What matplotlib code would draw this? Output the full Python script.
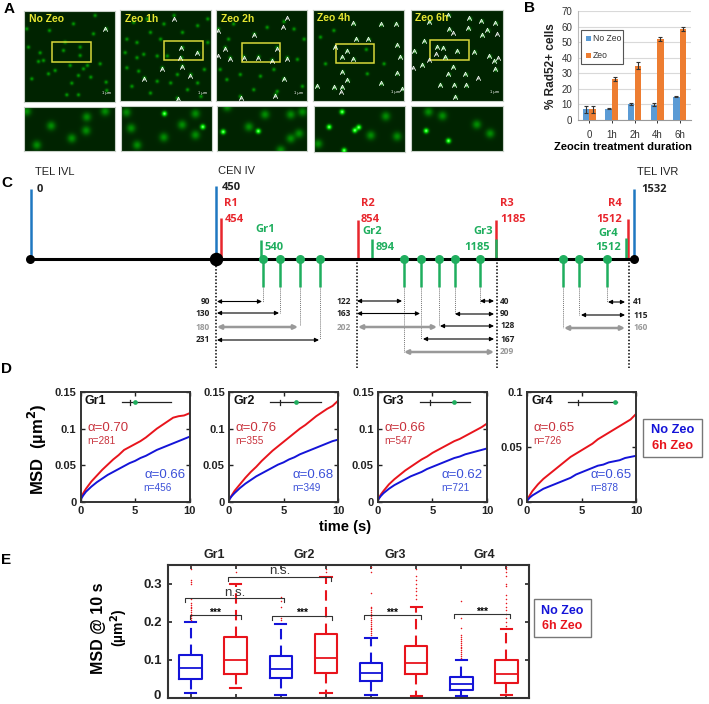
import numpy as np
import matplotlib
matplotlib.use('Agg')
import matplotlib.pyplot as plt
from matplotlib.path import Path
from matplotlib.patches import Rectangle

W, H = 709, 704
plt.rcParams['font.family'] = ['Liberation Sans', 'DejaVu Sans']

# ---- panel A: spots and arrowheads (3x crop pixels)
panel_names = ['No Zeo', 'Zeo 1h', 'Zeo 2h', 'Zeo 4h', 'Zeo 6h']
panel_boxes = [(72, 32, 345, 305), (360, 31, 633, 304), (648, 31, 922, 304), (938, 29, 1213, 302), (1232, 29, 1509, 302)]
strip_boxes = [(72, 320, 345, 453), (362, 317, 635, 453), (650, 318, 922, 453), (943, 318, 1216, 455), (1233, 318, 1509, 453)]
yellow_boxes = [(157, 127, 274, 185), (493, 122, 608, 181), (725, 128, 840, 187), (1007, 133, 1123, 190), (1291, 121, 1406, 179)]

spots_1 = [(80, 85), (148, 90), (195, 125), (120, 157), (190, 150), (240, 140), (85, 140), (130, 180), (115, 183),
           (240, 165), (272, 230), (215, 248), (200, 283), (250, 205), (235, 225), (262, 195), (210, 195), (145, 220),
           (165, 210), (95, 235), (235, 283), (318, 245), (320, 270), (285, 45), (318, 85), (280, 100), (220, 70), (300, 190)]
spots_2 = [(545, 145), (592, 160), (542, 175), (485, 205), (545, 200), (570, 225), (432, 235), (520, 50), (450, 100),
           (480, 120), (410, 130), (380, 205), (430, 165), (470, 170), (510, 250), (395, 260), (450, 280), (560, 270),
           (600, 290), (620, 130), (590, 80), (400, 70), (610, 210), (530, 295), (500, 170), (415, 215), (470, 245),
           (545, 100), (375, 160), (440, 60), (490, 75), (410, 175), (380, 120), (620, 60), (530, 225), (590, 250)]
spots_3 = [(850, 68), (685, 120), (762, 105), (675, 145), (830, 145), (690, 175), (730, 172), (775, 172), (815, 182),
           (860, 175), (850, 238), (825, 285), (720, 290), (910, 120), (880, 90), (800, 85), (700, 75), (660, 210),
           (720, 225), (780, 230), (820, 210), (890, 180), (680, 240), (760, 270), (905, 260), (830, 275), (655, 90)]
spots_4 = [(1060, 70), (1142, 73), (1187, 71), (1068, 117), (1105, 117), (1190, 135), (1005, 141), (1040, 152),
           (1025, 171), (1060, 176), (1097, 147), (1200, 170), (1027, 215), (1042, 240), (1143, 250), (1190, 220),
           (950, 258), (1002, 262), (1025, 262), (1207, 266), (960, 110), (1000, 90), (1150, 190), (1100, 220), (975, 190)]
spots_5 = [(1287, 65), (1345, 45), (1408, 55), (1347, 88), (1405, 85), (1272, 123), (1310, 140), (1328, 143), (1370, 153),
           (1243, 153), (1422, 155), (1335, 172), (1267, 194), (1358, 200), (1345, 222), (1396, 222), (1320, 254), (1362, 254),
           (1398, 256), (1365, 290), (1443, 62), (1485, 68), (1462, 90), (1445, 105), (1467, 168), (1482, 182), (1485, 208)]
panel_spots = [spots_1, spots_2, spots_3, spots_4, spots_5]

strip_spots = [[(153, 378), (260, 352), (258, 392), (215, 415), (110, 435), (80, 335), (315, 335)],
               [(378, 338), (585, 342), (392, 385), (545, 375), (490, 412), (585, 405), (410, 435)],
               [(905, 335), (793, 343), (870, 343), (745, 380), (870, 415), (895, 400), (680, 320), (840, 450)],
               [(1158, 348), (1113, 405), (1192, 408), (955, 430)],
               [(1327, 347), (1430, 373), (1285, 335), (1470, 400)]]
strip_bright = [[],
                [(492, 342), (607, 381)],
                [(668, 395), (773, 393)],
                [(1027, 335), (988, 380), (1065, 390), (1077, 381), (1033, 450)],
                [(1278, 392), (1345, 422)]]

arrow_heads = [[(315, 88)],
               [(522, 57), (544, 145), (592, 160), (541, 175), (485, 208), (545, 202), (570, 228), (432, 237), (533, 298)],
               [(860, 55), (848, 82), (655, 92), (762, 106), (675, 146), (830, 146), (654, 167), (690, 177), (732, 173),
                (775, 173), (815, 182), (860, 177), (851, 238), (825, 289), (722, 293)],
               [(1060, 70), (1142, 73), (1187, 71), (1068, 117), (1105, 117), (1190, 135), (1005, 141), (1040, 152),
                (1025, 171), (1060, 176), (1200, 170), (1027, 215), (1042, 240), (1143, 250), (1190, 220), (950, 258),
                (1002, 262), (1025, 262), (1024, 275), (1207, 266)],
               [(1287, 65), (1345, 45), (1408, 55), (1347, 88), (1405, 85), (1360, 100), (1272, 123), (1310, 140),
                (1328, 143), (1370, 153), (1243, 153), (1422, 155), (1308, 162), (1335, 172), (1287, 180), (1267, 194),
                (1238, 203), (1358, 200), (1345, 222), (1396, 222), (1433, 235), (1320, 254), (1362, 254), (1398, 256),
                (1365, 290), (1443, 62), (1485, 68), (1462, 90), (1490, 103), (1445, 105), (1467, 168), (1482, 182),
                (1495, 175), (1485, 208)]]

# ---- panel B
durations = ['0', '1h', '2h', '4h', '6h']
no_zeo_pct = [6.8, 7.2, 10.5, 9.7, 15.0]
zeo_pct = [6.8, 26.5, 35.0, 52.0, 58.5]
no_zeo_err = [2.2, 0.3, 0.6, 1.0, 0.3]
zeo_err = [2.2, 1.2, 2.2, 1.3, 1.2]

# ---- panel D
time_s = [0, 0.25, 0.5, 1, 1.5, 2, 2.5, 3, 3.5, 4, 4.5, 5, 5.5, 6, 6.5, 7, 7.5, 8, 8.5, 9, 9.5, 10]
gr1_zeo = [.003, .012, .018, .028, .036, .044, .051, .058, .064, .071, .075, .079, .083, .088, .094, .100, .105, .110, .115, .117, .118, .121]
gr1_ctl = [.003, .009, .014, .021, .027, .032, .037, .041, .045, .049, .053, .056, .060, .063, .067, .071, .074, .077, .080, .083, .086, .089]
gr2_zeo = [.003, .009, .015, .024, .033, .041, .048, .056, .063, .070, .076, .082, .088, .094, .100, .105, .111, .117, .122, .127, .131, .138]
gr2_ctl = [.003, .008, .012, .019, .025, .030, .035, .039, .043, .047, .051, .054, .058, .061, .065, .068, .071, .074, .077, .080, .083, .085]
gr3_zeo = [.003, .010, .015, .024, .031, .037, .043, .048, .053, .058, .062, .067, .071, .075, .079, .083, .086, .090, .094, .098, .102, .107]
gr3_ctl = [.003, .008, .012, .018, .023, .027, .031, .035, .038, .041, .045, .048, .051, .054, .057, .060, .062, .065, .067, .069, .071, .073]
gr4_zeo = [.002, .006, .010, .016, .021, .025, .029, .033, .037, .041, .044, .047, .050, .053, .057, .060, .063, .066, .069, .072, .075, .080]
gr4_ctl = [.001, .004, .006, .009, .012, .014, .016, .018, .020, .022, .025, .027, .029, .031, .033, .034, .036, .037, .038, .040, .041, .042]
msd_zeo = [gr1_zeo, gr2_zeo, gr3_zeo, gr4_zeo]
msd_ctl = [gr1_ctl, gr2_ctl, gr3_ctl, gr4_ctl]
alpha_zeo = ['0.70', '0.76', '0.66', '0.65']
alpha_ctl = ['0.66', '0.68', '0.62', '0.65']
n_zeo = [281, 355, 547, 726]
n_ctl = [456, 349, 721, 878]
groups = ['Gr1', 'Gr2', 'Gr3', 'Gr4']
inset_span = [(3.8, 8.3, 4.5, 4.97), (3.8, 8.4, 4.65, 6.15), (3.87, 8.4, 4.75, 6.93), (3.8, 8.3, 4.66, 8.1)]
msd_axes_px = [(80.5, 392, 189.5, 502), (229, 392, 338, 502), (378, 392, 487, 502), (527, 392, 636, 502)]

# ---- panel E: q1, median, q3, whisker low, whisker high
box_labels = ['Gr1 no', 'Gr1 zeo', 'Gr2 no', 'Gr2 zeo', 'Gr3 no', 'Gr3 zeo', 'Gr4 no', 'Gr4 zeo']
q1 = [.051, .064, .052, .066, .044, .062, .022, .039]
med = [.080, .100, .077, .106, .065, .091, .036, .064]
q3 = [.113, .161, .110, .169, .092, .136, .054, .099]
whislo = [.012, .026, .007, .013, .009, .004, .004, .009]
whishi = [.200, .300, .194, .317, .157, .240, .100, .180]
fliers = [[.35, .34, .31, .305, .30, .26, .25, .245, .24, .235, .23, .225, .22, .215, .21, .205],
          [.35, .33],
          [.265, .255, .24, .21, .205],
          [.35, .34, .33],
          [.345, .33, .275, .24, .235, .23, .225, .22, .215, .21, .205, .20, .195, .19, .185, .18, .175, .17, .165],
          [.34, .32, .31, .30, .29, .28, .27, .26],
          [.255, .21, .185, .165, .16, .155, .15, .145, .14, .135, .13, .125, .12, .115, .11, .105],
          [.345, .34, .33, .32, .30, .295, .27, .26, .25, .24, .23, .22, .21, .20, .19]]

fig = plt.figure(figsize=(W / 100, H / 100), dpi=100, facecolor='white')


def px_axes(x0, y0, x1, y1):
    return fig.add_axes([x0 / W, 1 - y1 / H, (x1 - x0) / W, (y1 - y0) / H])


# full figure layer in pixel units, for the schematic and loose text
lay = fig.add_axes([0, 0, 1, 1], zorder=5)
lay.set_xlim(0, W)
lay.set_ylim(H, 0)
lay.axis('off')
lay.patch.set_alpha(0)

for letter, x, y in [('A', 4, 9), ('B', 524, 8), ('C', 1, 183), ('D', 1, 369), ('E', 1, 560)]:
    lay.text(x, y, letter, fontsize=11, fontweight='bold', ha='left', va='center')


def micro(box, spots, bright, sigma, amp):
    xs = np.arange(box[0], box[2], 1.0)
    ys = np.arange(box[1], box[3], 1.0)
    gx, gy = np.meshgrid(xs, ys)
    g = np.zeros_like(gx)
    for sx, sy in spots:
        g += amp * np.exp(-((gx - sx) ** 2 + (gy - sy) ** 2) / (2 * sigma ** 2))
    for sx, sy in bright:
        g += 1.2 * np.exp(-((gx - sx) ** 2 + (gy - sy) ** 2) / (2 * (sigma * 0.55) ** 2))
    img = np.zeros(gx.shape + (3,))
    img[..., 1] = np.clip(0.14 + g, 0, 1)
    img[..., 0] = np.clip((g - 0.85) * 1.5, 0, 1)
    img[..., 2] = np.clip((g - 0.85) * 1.5, 0, 1)
    a = px_axes(box[0] / 3, box[1] / 3, box[2] / 3, box[3] / 3)
    a.imshow(img, aspect='auto', interpolation='bilinear', extent=(box[0], box[2], box[3], box[1]))
    a.set_xticks([])
    a.set_yticks([])
    for s in a.spines.values():
        s.set_color('#c8d0c8')
        s.set_linewidth(0.8)
    return a


head = Path([(-1, -1), (0, 1), (1, -1), (0, 0.1), (-0.3, -0.5)],
            [Path.MOVETO, Path.LINETO, Path.LINETO, Path.MOVETO, Path.LINETO])

for i, name in enumerate(panel_names):
    a = micro(panel_boxes[i], panel_spots[i], [], 3.6, 0.5)
    micro(strip_boxes[i], strip_spots[i], strip_bright[i], 9, 0.42)
    b = yellow_boxes[i]
    a.add_patch(Rectangle((b[0], b[1]), b[2] - b[0], b[3] - b[1], fill=False, ec='#d8d83a', lw=1.1))
    hx = [p[0] for p in arrow_heads[i]]
    hy = [p[1] for p in arrow_heads[i]]
    a.plot(hx, hy, ls='none', marker=head, ms=3.2, mfc='none', mec='white', mew=0.6, clip_on=True)
    a.set_xlim(panel_boxes[i][0], panel_boxes[i][2])
    a.set_ylim(panel_boxes[i][3], panel_boxes[i][1])
    a.text(panel_boxes[i][0] + 14, panel_boxes[i][1] + 26, name, color='#e6e632', fontsize=7.5, fontweight='bold', va='center')
    a.text(panel_boxes[i][2] - 26, panel_boxes[i][3] - 26, '1 µm', color='white', fontsize=3, ha='center', va='center')

# ---- panel B bars
axb = px_axes(578, 11, 691, 120)
pos = np.arange(len(durations))
bw = 0.29
axb.bar(pos - bw / 2, no_zeo_pct, bw, yerr=no_zeo_err, color='#5b9bd5', zorder=3,
        error_kw=dict(ecolor='#333333', lw=0.8, capsize=1.5, capthick=0.8))
axb.bar(pos + bw / 2, zeo_pct, bw, yerr=zeo_err, color='#ed7d31', zorder=3,
        error_kw=dict(ecolor='#333333', lw=0.8, capsize=1.5, capthick=0.8))
axb.set_xlim(-0.5, 4.5)
axb.set_ylim(0, 70)
axb.set_yticks(range(0, 71, 10))
axb.set_xticks(pos)
axb.set_xticklabels(durations)
axb.grid(axis='y', color='#d9d9d9', lw=0.8, zorder=0)
axb.set_axisbelow(True)
axb.tick_params(labelsize=7, colors='#333333', length=2, width=0.7, pad=5)
axb.tick_params(axis='y', length=0, pad=4)
for s in ['top', 'right']:
    axb.spines[s].set_visible(False)
axb.spines['left'].set_color('#bbbbbb')
axb.spines['bottom'].set_color('#999999')
# legend box sits on the figure layer so it can match the reference size
lay.add_patch(Rectangle((581, 29.5), 42, 34.5, fc='white', ec='#555555', lw=0.8))
lay.add_patch(Rectangle((585.5, 36), 5, 5, fc='#5b9bd5', ec='none'))
lay.add_patch(Rectangle((585.5, 53), 5, 5, fc='#ed7d31', ec='none'))
lay.text(593, 38.5, 'No Zeo', fontsize=6.2, color='#333333', va='center')
lay.text(593, 55.5, 'Zeo', fontsize=6.2, color='#333333', va='center')
lay.text(551, 66, '% Rad52+ cells', rotation=90, fontsize=8.5, fontweight='bold', ha='center', va='center', color='#222222')
lay.text(623, 147, 'Zeocin treatment duration', fontsize=8, fontweight='bold', ha='center', va='center')

# ---- panel C schematic, drawn in figure pixels
axis_y = 259
BLUE, RED, GREEN, GREY = '#1f78c1', '#e8262d', '#1fae5e', '#8c8c8c'
blue_sites = [(31, 189), (215.5, 186), (634, 189)]
red_sites = [(220.5, 218), (357.5, 220), (496, 220), (627.5, 219)]
green_sites = [(261, 240), (372, 239), (495.5, 239), (626, 238)]
lollipops = [263, 279.5, 300, 320, 404, 420.5, 438.5, 455, 480, 563, 579, 607]
lolli_drop = [302, 313, 325, 339, 352, 339, 326, 314, 303, 328, 315, 302]
dash_x = [216, 357, 496.5, 628.5]

for x, top in blue_sites:
    lay.plot([x, x], [top, axis_y], color=BLUE, lw=1.8, solid_capstyle='butt')
for x, top in red_sites:
    lay.plot([x, x], [top, axis_y], color=RED, lw=1.8, solid_capstyle='butt')
for x, top in green_sites:
    lay.plot([x, x], [top, axis_y], color=GREEN, lw=1.8, solid_capstyle='butt')
for x, drop in zip(lollipops, lolli_drop):
    lay.plot([x, x], [axis_y, 287], color=GREEN, lw=1.8, solid_capstyle='butt')
    lay.plot([x, x], [287, drop], color='#777777', lw=0.7, ls=(0, (1, 1)))
for x in dash_x:
    lay.plot([x, x], [axis_y, 368], color='black', lw=1.1, ls=(0, (1, 1.2)))
lay.plot([30, 634], [axis_y, axis_y], color='black', lw=2.2, solid_capstyle='butt', zorder=4)
lay.scatter(lollipops, [axis_y] * len(lollipops), s=42, color=GREEN, zorder=5, linewidths=0)
lay.scatter([30, 634], [axis_y, axis_y], s=42, color='black', zorder=6, linewidths=0)
lay.scatter([215.5], [axis_y], s=95, color='black', zorder=6, linewidths=0)

# start, end, row, label, label x, label alignment, grey or not
arrow_rows = [(217, 262, 301.5, '90', 210, 'right', False), (217, 279, 313, '130', 210, 'right', False),
              (217, 298, 327, '180', 210, 'right', True), (217, 319, 340, '231', 210, 'right', False),
              (357, 402, 301, '122', 351, 'right', False), (357, 420, 313.5, '163', 351, 'right', False),
              (358, 437, 327, '202', 351, 'right', True),
              (480, 494, 301, '40', 500, 'left', False), (455, 494, 314, '90', 500, 'left', False),
              (440, 494, 326, '128', 500, 'left', False), (423, 494, 339, '167', 500, 'left', False),
              (404, 494, 352, '209', 500, 'left', True),
              (608, 625, 302, '41', 633, 'left', False), (581, 625, 315, '115', 633, 'left', False),
              (564, 625, 328, '160', 633, 'left', True)]
for x0, x1, y, label, lx, ha, grey in arrow_rows:
    col = '#999999' if grey else 'black'
    lay.annotate('', xy=(x1, y), xytext=(x0, y),
                 arrowprops=dict(arrowstyle='<|-|>', color=col, lw=1.8 if grey else 0.8, mutation_scale=6, shrinkA=0, shrinkB=0))
    lay.text(lx, y, label, color='#999999' if grey else '#222222', fontsize=6, fontweight='bold', ha=ha, va='center',
             family=['Open Sans', 'DejaVu Sans'])

site_text = [(35, 172, 'TEL IVL', '#222222', 'normal'), (218.5, 171, 'CEN IV', '#222222', 'normal'), (637, 172, 'TEL IVR', '#222222', 'normal'),
             (37, 189, '0', '#222222', 'bold'), (222, 188, '450', '#222222', 'bold'), (641, 190, '1532', '#222222', 'bold'),
             (224, 204, 'R1', RED, 'bold'), (224.5, 220, '454', RED, 'bold'), (255, 229, 'Gr1', GREEN, 'bold'), (264.5, 247, '540', GREEN, 'bold'),
             (361, 204, 'R2', RED, 'bold'), (361, 220, '854', RED, 'bold'), (362, 231, 'Gr2', GREEN, 'bold'), (376, 247, '894', GREEN, 'bold'),
             (500, 204, 'R3', RED, 'bold'), (500, 220, '1185', RED, 'bold'), (473, 231, 'Gr3', GREEN, 'bold'), (464, 247, '1185', GREEN, 'bold'),
             (608, 204, 'R4', RED, 'bold'), (596, 220, '1512', RED, 'bold'), (598, 233, 'Gr4', GREEN, 'bold'), (595, 247, '1512', GREEN, 'bold')]
for x, y, s, col, wt in site_text:
    fam = ['Liberation Sans'] if wt == 'normal' else ['Open Sans', 'DejaVu Sans']
    lay.text(x, y, s, color=col, fontsize=8, fontweight=wt, ha='left', va='center', family=fam)

# ---- panel D curves
for i, box in enumerate(msd_axes_px):
    a = px_axes(*box)
    a.plot(time_s, msd_zeo[i], color='#e8141c', lw=1.4)
    a.plot(time_s, msd_ctl[i], color='#1414d8', lw=1.4)
    top = 0.1 if i == 3 else 0.15
    a.set_xlim(0, 10)
    a.set_ylim(0, top)
    a.set_xticks([0, 5, 10])
    a.set_xticklabels(['0', '5', '10'])
    if i == 3:
        a.set_yticks([0, 0.05, 0.1])
        a.set_yticklabels(['0', '0.05', '0.1'])
    else:
        a.set_yticks([0, 0.05, 0.1, 0.15])
        a.set_yticklabels(['0', '0.05', '0.1', '0.15'])
    a.tick_params(direction='in', length=3, width=1, labelsize=8, colors='#222222', top=True, right=True, pad=3)
    for lab in a.get_xticklabels() + a.get_yticklabels():
        lab.set_fontweight('bold')
    for s in a.spines.values():
        s.set_linewidth(1.4)
        s.set_color('#333333')
    a.text(0.4, top * 0.92, groups[i], fontsize=9, fontweight='bold', va='center', color='#111111')
    x0, x1, tick, dot = inset_span[i]
    ins_y = top * 0.905
    a.plot([x0, x1], [ins_y, ins_y], color='#222222', lw=0.9)
    a.plot([tick, tick], [ins_y - top * 0.025, ins_y + top * 0.025], color='#222222', lw=0.9)
    a.plot([dot], [ins_y], marker='o', ms=3.4, color=GREEN, mew=0)
    a.text(0.6, top * 0.675, '\u03b1=' + alpha_zeo[i], color='#c8323c', fontsize=9.5, va='center')
    a.text(0.6, top * 0.55, 'n=%d' % n_zeo[i], color='#c8323c', fontsize=7.2, va='center')
    a.text(9.6, top * 0.247, '\u03b1=' + alpha_ctl[i], color='#3b50d8', fontsize=9.5, va='center', ha='right')
    a.text(8.4, top * 0.127, 'n=%d' % n_ctl[i], color='#3b50d8', fontsize=7.2, va='center', ha='right')

lay.text(37, 449, 'MSD  (µm$^{\\mathbf{2}}$)', rotation=90, fontsize=12, fontweight='bold', ha='center', va='center')
lay.text(345, 527, 'time (s)', fontsize=10.5, fontweight='bold', ha='center', va='center')
lay.add_patch(Rectangle((643, 419), 59, 38, fc='white', ec='#777777', lw=1))
lay.text(672.5, 430, 'No Zeo', color='#1414d8', fontsize=9.2, fontweight='bold', ha='center', va='center')
lay.text(672.5, 446, '6h Zeo', color='#e8141c', fontsize=9.2, fontweight='bold', ha='center', va='center')

# ---- panel E boxes
axe = px_axes(168, 564.7, 529, 698)
colors = ['#1414d8', '#e8141c'] * 4
box_pos = list(range(1, 9))
for i in range(8):
    stat = dict(label=box_labels[i], q1=q1[i], med=med[i], q3=q3[i], whislo=whislo[i], whishi=whishi[i], fliers=fliers[i])
    c = colors[i]
    axe.bxp([stat], positions=[box_pos[i]], widths=0.5, manage_ticks=False,
            boxprops=dict(color=c, lw=1.5), medianprops=dict(color=c, lw=1.3),
            whiskerprops=dict(color=c, lw=1.5, ls=(0, (5, 3))), capprops=dict(color=c, lw=1.5), capwidths=0.25,
            flierprops=dict(marker='o', ms=1.1, mfc='#e8141c', mec='#e8141c', mew=0, ls='none'))
axe.set_xlim(0.5, 8.5)
axe.set_ylim(0, 0.35)
axe.set_xticks(box_pos)
axe.set_xticklabels([])
axe.set_yticks([0, 0.1, 0.2, 0.3])
# the 0 label goes on the figure layer, it sits right at the bottom edge
axe.set_yticklabels(['', '0.1', '0.2', '0.3'])
axe.tick_params(direction='in', length=3, width=1.2, labelsize=9.5, colors='#222222', top=True, right=True, pad=4)
for lab in axe.get_yticklabels():
    lab.set_fontweight('bold')
for s in axe.spines.values():
    s.set_linewidth(1.5)
    s.set_color('#333333')
lay.text(161, 696, '0', fontsize=9.5, fontweight='bold', color='#222222', ha='right', va='center')

# brackets: left, right, height, label
brackets = [(190, 240.5, 615, '***'), (272, 332, 615.7, '***'), (363.7, 421, 615, '***'), (453.7, 510, 614, '***'),
            (185.3, 284, 598, 'n.s.'), (228, 331, 577, 'n.s.')]
for x0, x1, y, s in brackets:
    lay.plot([x0, x0, x1, x1], [y + 4, y, y, y + 4], color='#333333', lw=0.8)
    if s == '***':
        lay.text((x0 + x1) / 2, y - 2.5, s, fontsize=7.5, fontweight='bold', ha='center', va='center')
    else:
        lay.text((x0 + x1) / 2, y - 5.5, s, fontsize=9.5, ha='center', va='center', color='#333333')

for g, x in zip(groups, [214.5, 304, 395, 484]):
    lay.text(x, 555, g, fontsize=9, fontweight='bold', ha='center', va='center', color='#222222')
lay.text(98, 628, 'MSD @ 10 s', rotation=90, fontsize=11.5, fontweight='bold', ha='center', va='center')
lay.text(119, 628, '(µm$^{\\mathbf{2}}$)', rotation=90, fontsize=10, fontweight='bold', ha='center', va='center')
lay.add_patch(Rectangle((533.7, 599), 57, 38, fc='white', ec='#777777', lw=1))
lay.text(562, 611, 'No Zeo', color='#1414d8', fontsize=9, fontweight='bold', ha='center', va='center')
lay.text(562, 626, '6h Zeo', color='#e8141c', fontsize=9, fontweight='bold', ha='center', va='center')

plt.savefig('out.png', dpi=100)
plt.close()
